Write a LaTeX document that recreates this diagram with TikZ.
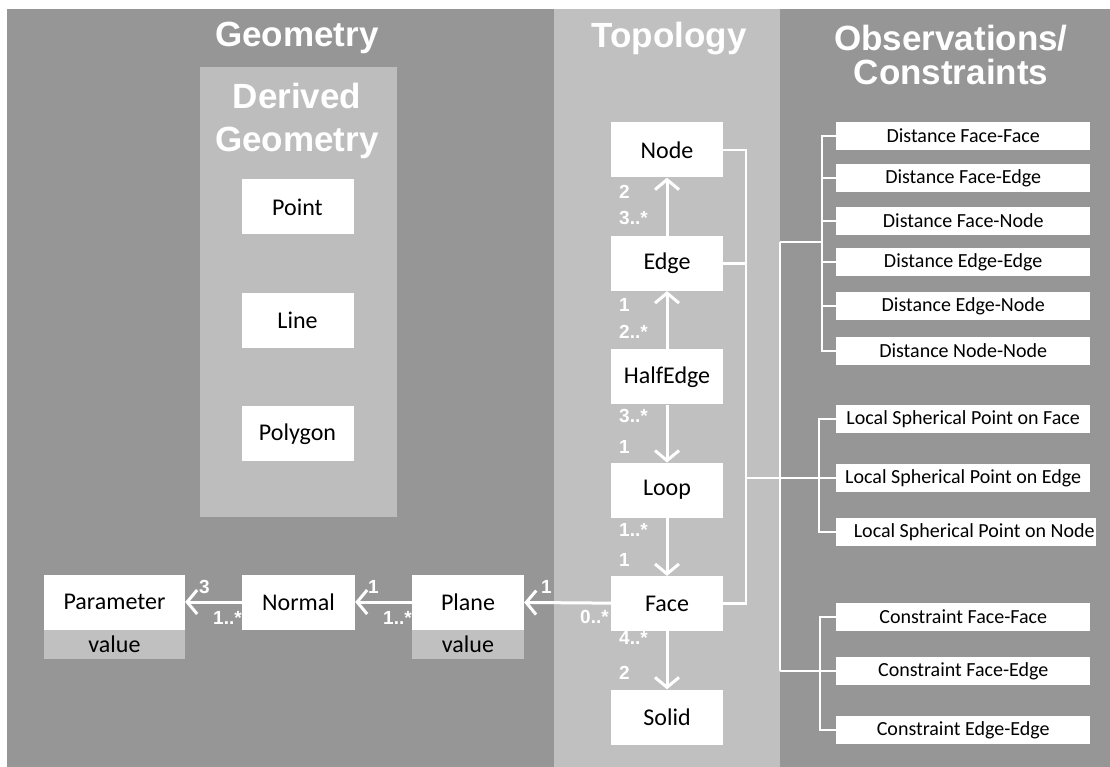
\documentclass[tikz,border=0pt]{standalone}
\usepackage{fontspec}
\setmainfont{Carlito}
\newfontfamily\headfont{Liberation Sans}
\usetikzlibrary{arrows.meta, positioning}
\definecolor{panel-dark}{RGB}{150,150,150}
\definecolor{panel-light}{RGB}{192,192,192}
\definecolor{derived-grey}{RGB}{189,189,189}

\begin{document}
\begin{tikzpicture}[
    x=1pt, y=-1pt,
    node distance=58pt,
    box/.style={rectangle, fill=white, minimum width=112pt, minimum height=55pt, inner sep=0pt, font=\fontsize{24}{28}\selectfont},
    valrow/.style={rectangle, fill=panel-light, minimum height=29pt, inner sep=0pt, font=\fontsize{24}{28}\selectfont},
    obsbox/.style={rectangle, fill=white, minimum width=254pt, minimum height=28pt, inner sep=0pt, anchor=west, font=\fontsize{20}{22}\selectfont},
    head/.style={text=white, align=center, font=\headfont\bfseries\fontsize{35}{43}\selectfont},
    mult/.style={text=white, anchor=west, inner sep=0pt, font=\headfont\bfseries\fontsize{19}{19}\selectfont},
    assoc/.style={draw=white, line width=3pt, -{Straight Barb[length=10pt, width=24pt]}},
    wire/.style={draw=white, line width=2.5pt}
]

\useasboundingbox (0,0) rectangle (1110,767);
\fill[white] (0,0) rectangle (1110,767);

% panels
\fill[panel-dark] (7,9) rectangle (554,767);
\fill[panel-light] (554,9) rectangle (780,767);
\fill[panel-dark] (780,9) rectangle (1110,767);
\fill[derived-grey] (200,67) rectangle (397,517);

\node[head] (geomhead) at (297,38) {Geometry};
\node[head] (derivedhead) at (297,121) {Derived\\Geometry};
\node[head] (topohead) at (669,39) {Topology};
\node[head, font=\headfont\bfseries\fontsize{35}{34}\selectfont] (obshead) at (951,55) {Observations/\\Constraints};

% derived geometry
\node[box] (point) at (297.5,207) {Point};
\node[box, below=of point] (line) {Line};
\node[box, below=of line] (polygon) {Polygon};

% topology
\node[box] (node) at (667,150) {Node};
\node[box, below=of node] (edge) {Edge};
\node[box, below=of edge] (halfedge) {HalfEdge};
\node[box, below=of halfedge] (loop) {Loop};
\node[box, below=of loop] (face) {Face};
\node[box, below=of face] (solid) {Solid};

% geometry
\node[box, minimum width=112pt] (plane) at (468,602) {Plane};
\node[valrow, minimum width=112pt, below=0pt of plane] (planeval) {value};
\node[box, minimum width=113pt] (normal) at (298.5,602) {Normal};
\node[box, minimum width=141pt] (param) at (114.5,602) {Parameter};
\node[valrow, minimum width=141pt, below=0pt of param] (paramval) {value};

% observations / constraints
\node[obsbox] (dff) at (836,136) {Distance Face-Face};
\node[obsbox] (dfe) at (836,178) {Distance Face-Edge};
\node[obsbox] (dfn) at (836,221) {Distance Face-Node};
\node[obsbox] (dee) at (836,262) {Distance Edge-Edge};
\node[obsbox] (den) at (836,306) {Distance Edge-Node};
\node[obsbox] (dnn) at (836,351) {Distance Node-Node};

\node[obsbox] (lspf) at (836,419) {Local Spherical Point on Face};
\node[obsbox] (lspe) at (836,478) {Local Spherical Point on Edge};
\node[obsbox, minimum width=260pt] (lspn) at (836,532) {\hspace{16pt}Local Spherical Point on Node};

\node[obsbox] (cff) at (836,617) {Constraint Face-Face};
\node[obsbox] (cfe) at (836,671) {Constraint Face-Edge};
\node[obsbox] (cee) at (836,730) {Constraint Edge-Edge};

% associations
\draw[assoc] (edge) -- (node);
\draw[assoc] (halfedge) -- (edge);
\draw[assoc] (halfedge) -- (loop);
\draw[assoc] (loop) -- (face);
\draw[assoc] (face) -- (solid);
\draw[assoc] (face) -- (plane);
\draw[assoc] (plane) -- (normal);
\draw[assoc] (normal) -- (param);

% multiplicities
\node[mult] (m-node) at (619,192) {2};
\node[mult] (m-edge-a) at (619,218) {3..*};
\node[mult] (m-edge-b) at (619,305) {1};
\node[mult] (m-half-a) at (619,332) {2..*};
\node[mult] (m-half-b) at (619,416) {3..*};
\node[mult] (m-loop-a) at (619,447) {1};
\node[mult] (m-loop-b) at (619,530) {1..*};
\node[mult] (m-face-a) at (619,560) {1};
\node[mult] (m-face-b) at (619,638) {4..*};
\node[mult] (m-solid) at (619,673) {2};
\node[mult] (m-plane) at (541,587) {1};
\node[mult] (m-face-c) at (580,617) {0..*};
\node[mult] (m-normal) at (368,587) {1};
\node[mult] (m-plane-b) at (383,618) {1..*};
\node[mult] (m-param) at (199,587) {3};
\node[mult] (m-normal-b) at (213,618) {1..*};

% connector tree
\coordinate (tjoin) at (746,478);
\coordinate (djoin) at (780,242);
\coordinate (cjoin) at (780,671);
\draw[wire] (node.east) -- ++(23,0) |- (face.east);
\draw[wire] (edge.east) -- ++(23,0);
\draw[wire] (tjoin) -- (lspe.west);
\draw[wire] (djoin) -- (cjoin);
\draw[wire] (djoin) -- ++(42,0);
\draw[wire] (cjoin) -- (cfe.west);

\draw[wire] (dff.west) -- ++(-14,0) |- (dnn.west);
\foreach \b in {dfe,dfn,dee,den}
  \draw[wire] (\b.west) -- ++(-14,0);
\draw[wire] (lspf.west) -- ++(-17,0) |- (lspn.west);
\draw[wire] (cff.west) -- ++(-16,0) |- (cee.west);

\end{tikzpicture}
\end{document}
